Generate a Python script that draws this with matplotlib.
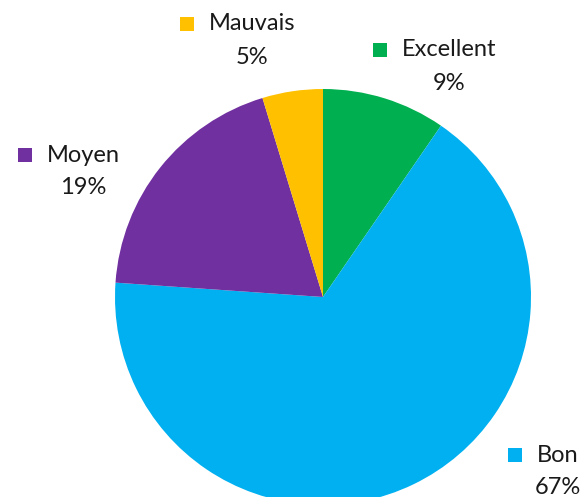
import matplotlib.pyplot as plt
from matplotlib.patches import Rectangle

# data (clockwise from 12 o'clock)
categories = ['Excellent', 'Bon', 'Moyen', 'Mauvais']
shares = [9.6, 66.5, 19.2, 4.7]
pct_labels = ['9%', '67%', '19%', '5%']
colors = ['#00B050', '#00B0F0', '#7030A0', '#FFC000']

# label layout in pixels (centre of text block, from top-left)
label_pos = [(449, 50), (558, 455), (83, 155), (252, 24)]

W, H = 587, 497
fig = plt.figure(figsize=(W / 100, H / 100), dpi=100)
ax = fig.add_axes([0, 0, 1, 1])

ax.pie(shares, colors=colors, startangle=90, counterclock=False,
       center=(323, H - 297), radius=208, frame=True,
       wedgeprops=dict(linewidth=0))

ax.set_xlim(0, W)
ax.set_ylim(0, H)
ax.set_aspect('equal')
ax.axis('off')

font = dict(family=['Lato', 'DejaVu Sans'], fontsize=17, color='#1a1a1a')
for name, pct, col, (x, y) in zip(categories, pct_labels, colors, label_pos):
    t = ax.text(x, H - y, name, ha='center', va='center', **font)
    ax.text(x, H - y - 33, pct, ha='center', va='center', **font)
    # legend key to the left of the category name
    fig.canvas.draw()
    bb = t.get_window_extent()
    ax.add_patch(Rectangle((bb.x0 - 29, H - y - 7), 14, 14, color=col, lw=0))

fig.savefig('out.png', dpi=100)
